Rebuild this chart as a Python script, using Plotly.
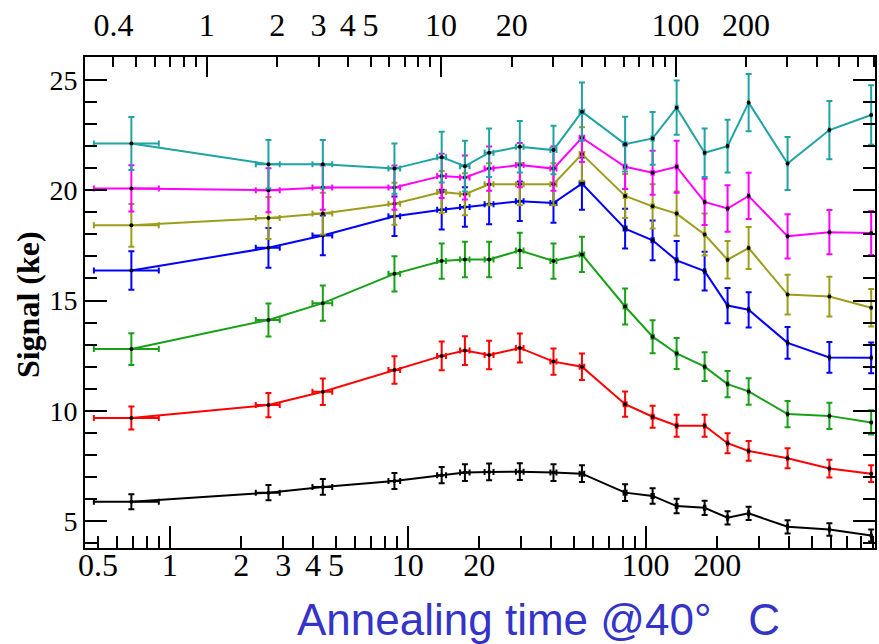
import plotly.graph_objects as go

# ---- data ----
t_hours = [0.69, 2.6, 4.4, 8.8, 13.9, 17.4, 22.0, 29.6, 41.0, 54.0, 82.0, 107.0,
           135.0, 177.0, 221.0, 271.0, 395.0, 592.0, 887.0]
t_err = [0.21, 0.30, 0.42, 0.50, 0.60, 0.80, 0.95, 1.1, 1.2, 1.2, 1.2, 1.2,
         1.2, 1.2, 1.2, 1.2, 1.2, 1.2, 1.2]

cyan = [22.12, 21.18, 21.18, 20.98, 21.5, 21.09, 21.7, 21.97, 21.82, 23.56, 22.09,
        22.35, 23.74, 21.7, 22.0, 23.97, 21.21, 22.73, 23.41]
cyan_err = [1.2, 1.1, 1.1, 1.14, 1.15, 1.15, 1.1, 1.17, 1.1, 1.32, 1.24, 1.2, 1.23,
            1.1, 1.2, 1.3, 1.2, 1.32, 1.35]
magenta = [20.08, 20.0, 20.12, 20.12, 20.65, 20.58, 20.98, 21.14, 20.98, 22.38, 21.06,
           20.79, 21.06, 19.47, 19.17, 19.74, 17.91, 18.1, 18.06]
magenta_err = [1.05, 1.0, 1.0, 1.0, 1.0, 1.0, 1.0, 1.0, 1.0, 1.1, 1.0, 1.0, 1.18,
               1.05, 1.05, 1.05, 1.0, 1.0, 1.0]
olive = [18.41, 18.74, 18.94, 19.39, 19.92, 19.82, 20.27, 20.27, 20.27, 21.64, 19.74,
         19.27, 18.94, 17.99, 16.85, 17.38, 15.27, 15.18, 14.67]
olive_err = [0.97, 0.95, 0.95, 0.95, 0.95, 0.95, 0.95, 0.95, 0.95, 1.21, 1.0, 1.0,
             1.0, 0.95, 0.85, 0.95, 0.9, 0.9, 0.85]
blue = [16.36, 17.39, 17.95, 18.82, 19.12, 19.24, 19.36, 19.5, 19.42, 20.3, 18.26,
        17.73, 16.82, 16.33, 14.77, 14.58, 13.08, 12.42, 12.4]
blue_err = [0.87, 0.9, 0.9, 0.9, 0.9, 0.9, 0.9, 0.9, 0.9, 1.18, 0.9, 0.9, 0.88,
            0.88, 0.8, 0.8, 0.72, 0.7, 0.7]
green = [12.8, 14.12, 14.88, 16.21, 16.79, 16.86, 16.86, 17.27, 16.79, 17.09, 14.73,
         13.36, 12.6, 12.0, 11.21, 10.88, 9.85, 9.77, 9.47]
green_err = [0.72, 0.75, 0.8, 0.8, 0.8, 0.8, 0.8, 0.8, 0.8, 0.8, 0.82, 0.75, 0.7,
             0.65, 0.6, 0.6, 0.6, 0.6, 0.55]
red = [9.67, 10.26, 10.86, 11.85, 12.49, 12.73, 12.53, 12.85, 12.23, 12.0, 10.3,
       9.73, 9.32, 9.32, 8.53, 8.18, 7.85, 7.38, 7.15]
red_err = [0.52, 0.55, 0.6, 0.62, 0.65, 0.65, 0.65, 0.66, 0.6, 0.6, 0.57, 0.5, 0.5,
           0.5, 0.45, 0.45, 0.45, 0.4, 0.38]
black = [5.88, 6.29, 6.55, 6.82, 7.08, 7.2, 7.23, 7.24, 7.2, 7.15, 6.29, 6.14, 5.68,
         5.6, 5.15, 5.35, 4.74, 4.62, 4.35]
black_err = [0.34, 0.35, 0.36, 0.36, 0.37, 0.38, 0.38, 0.38, 0.38, 0.38, 0.38, 0.35,
             0.33, 0.32, 0.3, 0.3, 0.3, 0.28, 0.27]

bottom_labels = [0.5, 1, 2, 3, 4, 5, 10, 20, 100, 200]
top_labels = [0.4, 1, 2, 3, 4, 5, 10, 20, 100, 200]
decades = [1, 10, 100]
y_ticks = [5, 10, 15, 20, 25]

series = [
    (black, black_err, "#000000"),
    (red, red_err, "#ff0000"),
    (green, green_err, "#19a019"),
    (blue, blue_err, "#0000ff"),
    (olive, olive_err, "#9d9d1d"),
    (magenta, magenta_err, "#ff00ff"),
    (cyan, cyan_err, "#1fa3a3"),
]

fig = go.Figure()
for vals, errs, col in series:
    fig.add_trace(go.Scatter(
        x=t_hours, y=vals, mode="lines+markers",
        line=dict(color=col, width=2),
        marker=dict(color="black", size=4),
        error_y=dict(type="data", array=errs, color=col, thickness=2, width=3),
        error_x=dict(type="data", array=t_err, color=col, thickness=2, width=3),
        showlegend=False, hoverinfo="skip",
    ))

# dummy traces so overlay axes get drawn
for xa in ["x2", "x3", "x4"]:
    fig.add_trace(go.Scatter(x=[1], y=[None], xaxis=xa, yaxis="y", mode="markers",
                             showlegend=False, hoverinfo="skip"))

def minor_vals(lo, hi):
    out = []
    for d in [0.1, 1, 10, 100]:
        for m in range(2, 10):
            v = round(m * d, 4)
            if lo <= v <= hi:
                out.append(v)
    return out

b_range = [-0.356, 2.964]
t_range = [-0.519, 2.851]
serif = "Liberation Serif"

b_minor = [v for v in minor_vals(0.4, 950) if v not in bottom_labels]
t_minor = [v for v in minor_vals(0.4, 750) if v not in top_labels]

fig.update_layout(
    width=879, height=644,
    margin=dict(l=85, r=2, t=57, b=96),
    paper_bgcolor="white", plot_bgcolor="white",
    xaxis=dict(
        type="log", range=b_range, showgrid=False, zeroline=False,
        tickmode="array", tickvals=bottom_labels,
        ticktext=[str(v) for v in bottom_labels],
        ticks="inside", ticklen=12, tickwidth=2, tickcolor="black",
        showline=True, linecolor="black", linewidth=2,
        ticklabelstandoff=-12,
        tickfont=dict(family=serif, size=32, color="black"),
        minor=dict(tickmode="array", tickvals=b_minor, ticks="inside",
                   ticklen=12, tickwidth=2, tickcolor="black", showgrid=False),
    ),
    xaxis3=dict(
        type="log", range=b_range, overlaying="x", anchor="y", side="bottom",
        tickmode="array", tickvals=decades, showticklabels=False,
        ticks="inside", ticklen=22, tickwidth=2, tickcolor="black",
        showgrid=False, zeroline=False, showline=False,
    ),
    xaxis2=dict(
        type="log", range=t_range, overlaying="x", anchor="y", side="top",
        tickmode="array", tickvals=top_labels,
        ticktext=[str(v) for v in top_labels],
        ticks="inside", ticklen=10, tickwidth=2, tickcolor="black",
        showline=True, linecolor="black", linewidth=2,
        showgrid=False, zeroline=False, ticklabelstandoff=6,
        tickfont=dict(family=serif, size=32, color="black"),
        minor=dict(tickmode="array", tickvals=t_minor, ticks="inside",
                   ticklen=10, tickwidth=2, tickcolor="black", showgrid=False),
    ),
    xaxis4=dict(
        type="log", range=t_range, overlaying="x", anchor="y", side="top",
        tickmode="array", tickvals=decades, showticklabels=False,
        ticks="inside", ticklen=20, tickwidth=2, tickcolor="black",
        showgrid=False, zeroline=False, showline=False,
    ),
    yaxis=dict(
        range=[3.78, 26.04], showgrid=False, zeroline=False,
        tickmode="array", tickvals=y_ticks,
        ticks="inside", ticklen=22, tickwidth=2, tickcolor="black",
        showline=True, linecolor="black", linewidth=2, mirror="ticks",
        tickfont=dict(family=serif, size=28, color="black"),
        minor=dict(dtick=1, ticks="inside", ticklen=12, tickwidth=2,
                   tickcolor="black", showgrid=False),
    ),
    annotations=[
        dict(text="Annealing time @40°\u00a0\u00a0\u00a0C", xref="paper", yref="paper",
             x=0.5745, y=-0.1466, xanchor="center", yanchor="middle", showarrow=False,
             font=dict(family="Liberation Sans", size=44, color="#3434c8")),
        dict(text="<b>Signal (ke)</b>", xref="paper", yref="paper",
             x=-0.072, y=0.495, xanchor="center", yanchor="middle", showarrow=False,
             textangle=-90, font=dict(family=serif, size=32, color="black")),
    ],
)

fig.write_html("out.html")
